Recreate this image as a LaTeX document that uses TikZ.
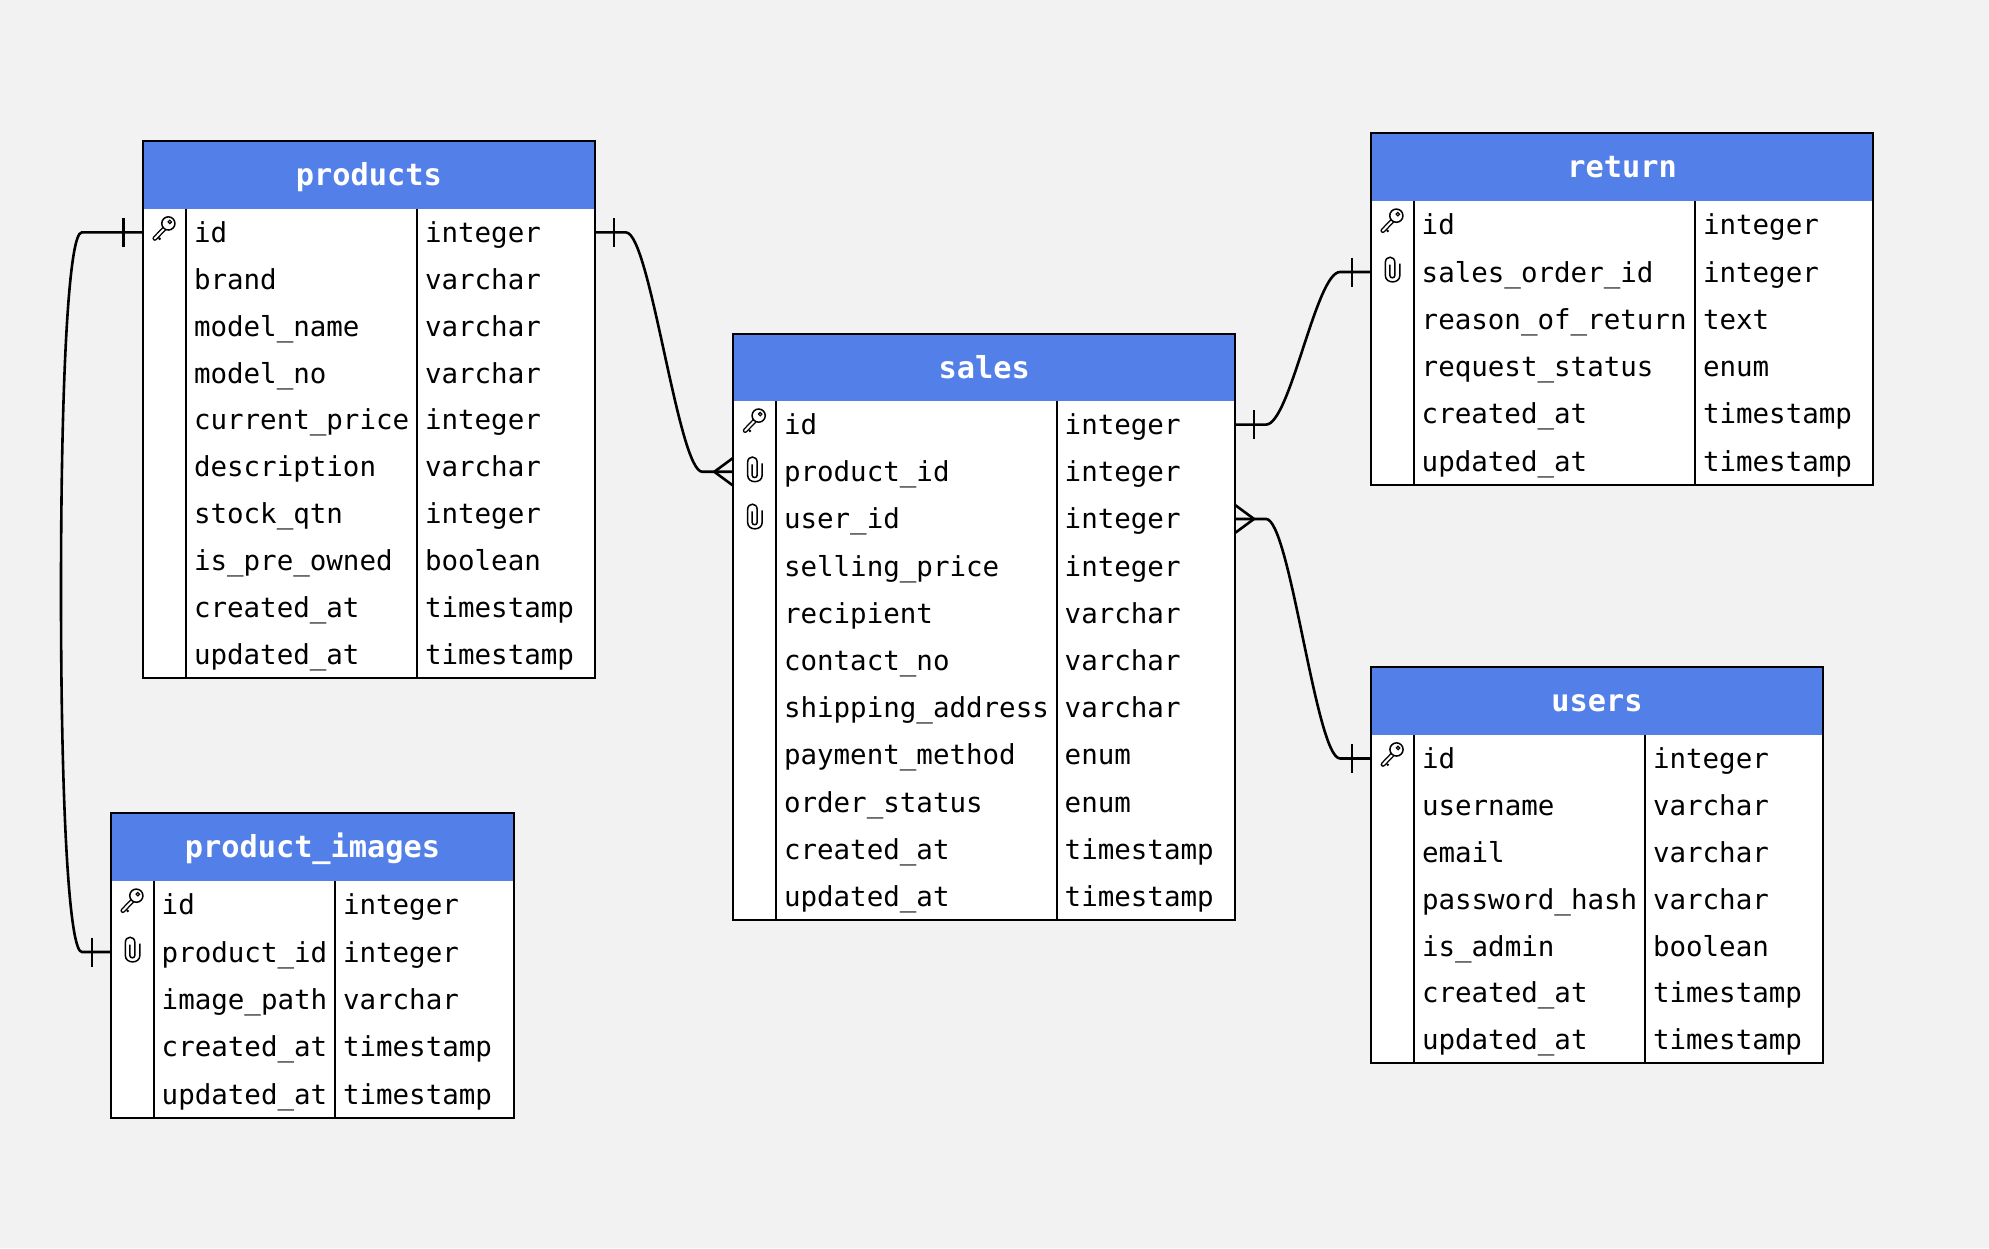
\documentclass[tikz,border=0pt]{standalone}
\usepackage{fontspec}
\setmonofont{DejaVu Sans Mono}
\usetikzlibrary{calc}
\definecolor{erdcanvas}{RGB}{242,242,242}
\definecolor{erdhead}{RGB}{83,127,232}
\tikzset{
  tblline/.style={draw=black, line width=2.2pt},
  headcell/.style={fill=erdhead, text=white, inner sep=0pt, outer sep=0pt, text height=21pt, text depth=0pt,
                   font=\fontsize{30.3}{34}\selectfont\ttfamily\bfseries},
  keycell/.style={inner sep=0pt, outer sep=0pt},
  textcell/.style={inner xsep=8pt, inner ysep=0pt, outer sep=0pt, align=left, text height=20pt, text depth=0pt,
                   font=\fontsize{27.5}{32}\selectfont\ttfamily},
  rel/.style={line width=2.6pt, to path={-- ($(\tikztostart)+(31,0)$)
      .. controls ($(\tikztostart)+(55,0)$) and ($(\tikztotarget)+(-55,0)$) .. ($(\tikztotarget)+(-31,0)$)
      -- (\tikztotarget)}},
  pics/pk/.style={code={
    \draw[line width=4.8pt, line cap=round] (-9.5,6) -- (2,-6);
    \draw[line width=2pt] (-5.5,5.5) -- (-4,7);
    \draw[line width=2pt, white, line cap=round] (-9.5,6) -- (2,-6);
    \draw[line width=1.5pt, fill=white] (4,-9) circle (6.6);
    \draw[line width=1.2pt] (5.5,-10.5) circle (1.7);
  }},
  pics/fk/.style={code={
    \draw[line width=1.5pt, yshift=2.5pt] (-2.5,-5) -- (-2.5,6) .. controls (-2.5,9) and (2.5,9) .. (2.5,6)
      -- (2.5,-7) .. controls (2.5,-14) and (-7,-14) .. (-7,-7) -- (-7,6)
      .. controls (-7,14.5) and (7.5,14.5) .. (7.5,6) -- (7.5,-6);
  }},
  pics/no/.style={code={}},
  pics/onebar/.style={code={
    \draw[line width=2.6pt] (-19,-14.5) -- (-19,14.5);
  }},
  pics/crowfoot/.style={code={
    \draw[line width=2.6pt] (0,-14) -- (-19,0) -- (0,14);
  }}
}
\catcode`\_=12
\def\dbtable#1(#2,#3,#4,#5)(#6,#7,#8)#9{
  \node[headcell, minimum width=#5pt-#2pt, minimum height=#7pt-#6pt] (#1) at ({(#2+#5)/2},{(#6+#7)/2}) {#1};
  \foreach \k/\n/\t [count=\i] in {#9} {
    \pgfmathsetmacro\yy{#7+(\i-.5)*#8}
    \fill[white] (#2,{#7+(\i-1)*#8}) rectangle (#5,{#7+\i*#8});
    \node[keycell, minimum width=#3pt-#2pt, minimum height=#8pt] (#1-\i-k) at ({(#2+#3)/2},\yy) {};
    \node[textcell, minimum height=#8pt, text width=#4pt-#3pt-16pt] (#1-\i-n) at ({(#3+#4)/2},\yy) {\mbox{\n}};
    \node[textcell, minimum height=#8pt, text width=#5pt-#4pt-16pt] (#1-\i-t) at ({(#4+#5)/2},\yy) {\mbox{\t}};
    \path (#1-\i-k) pic {\k};
    \xdef\lastrow{\i}
  }
  \draw[tblline] (#3,#7) -- (#3,{#7+\lastrow*#8});
  \draw[tblline] (#4,#7) -- (#4,{#7+\lastrow*#8});
  \draw[tblline] (#2,#6) rectangle (#5,{#7+\lastrow*#8});
}
\begin{document}
\begin{tikzpicture}[x=1pt, y=-1pt]
\path[use as bounding box, fill=erdcanvas] (0,0) rectangle (1989,1248);

\dbtable{products}(142.7,186,417,595)(141,209,46.87){
  pk/id/integer, no/brand/varchar, no/model_name/varchar, no/model_no/varchar, no/current_price/integer,
  no/description/varchar, no/stock_qtn/integer, no/is_pre_owned/boolean, no/created_at/timestamp, no/updated_at/timestamp}
\dbtable{product_images}(111,153.7,335,514)(812.7,881,47.34){
  pk/id/integer, fk/product_id/integer, no/image_path/varchar, no/created_at/timestamp, no/updated_at/timestamp}
\dbtable{sales}(733.3,776,1056.7,1235)(334,401,47.18){
  pk/id/integer, fk/product_id/integer, fk/user_id/integer, no/selling_price/integer, no/recipient/varchar,
  no/contact_no/varchar, no/shipping_address/varchar, no/payment_method/enum, no/order_status/enum,
  no/created_at/timestamp, no/updated_at/timestamp}
\dbtable{return}(1371,1413.7,1695,1873.3)(133,201,47.33){
  pk/id/integer, fk/sales_order_id/integer, no/reason_of_return/text, no/request_status/enum,
  no/created_at/timestamp, no/updated_at/timestamp}
\dbtable{users}(1371,1414,1645,1823)(667,735,46.9){
  pk/id/integer, no/username/varchar, no/email/varchar, no/password_hash/varchar, no/is_admin/boolean,
  no/created_at/timestamp, no/updated_at/timestamp}

\draw[rel] (products-1-t.east) to (sales-2-k.west);
\draw[rel] (sales-1-t.east) to (return-2-k.west);
\draw[rel] (sales-3-t.east) to (users-1-k.west);
\coordinate (loopmid) at (61,592);
\draw[line width=2.6pt] (products-1-k.west) -- ++(-61,0) .. controls +(-12,0) and (61,360) .. (loopmid)
  .. controls (61,824) and (70,953) .. ($(product_images-2-k.west)+(-29,0)$) -- (product_images-2-k.west);

\path (products-1-k.west) pic {onebar};
\path (products-1-t.east) pic[rotate=180] {onebar};
\path (sales-1-t.east) pic[rotate=180] {onebar};
\path (return-2-k.west) pic {onebar};
\path (users-1-k.west) pic {onebar};
\path (product_images-2-k.west) pic {onebar};
\path (sales-2-k.west) pic {crowfoot};
\path (sales-3-t.east) pic[rotate=180] {crowfoot};
\end{tikzpicture}
\end{document}
